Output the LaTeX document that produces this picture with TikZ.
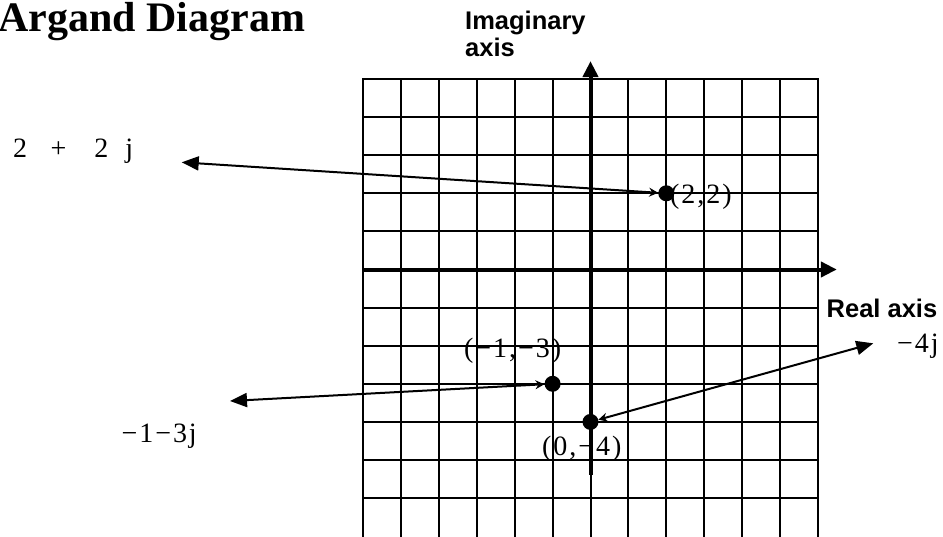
\documentclass[tikz,border=0pt]{standalone}
\usepackage{fontspec}
\setmainfont{Liberation Serif}
\newfontfamily\arialfont{Liberation Sans}
\newfontfamily\spacedserif[LetterSpace=7]{Liberation Serif}
\usetikzlibrary{arrows.meta}
\begin{document}
\begin{tikzpicture}[x=1pt,y=-1pt,
  gridline/.style={line width=2pt,line cap=rect},
  axisline/.style={line width=4pt,-{Triangle[length=16pt,width=15pt]}},
  dot/.style={circle,fill=black,inner sep=0pt,minimum size=16pt},
  pointer/.style={line width=2pt,{Triangle[length=17pt,width=14pt]}-{Stealth[length=9pt,width=9pt,inset=3pt]}},
  titlefont/.style={font=\bfseries\fontsize{42}{48}\selectfont,inner sep=0pt},
  sanslabel/.style={font=\arialfont\bfseries\fontsize{25.5}{27}\selectfont,inner sep=0pt},
  serif/.style={font=\fontsize{28}{32}\selectfont,inner sep=0pt},
  coordlabel/.style={font=\spacedserif\fontsize{28}{32}\selectfont,inner sep=0pt}]
\fill[white] (0,0) rectangle (943,536);
\useasboundingbox (0,0) rectangle (943,536);
\begin{scope}[shift={(590.5,269.5)},x=37.9pt,y=38.1pt]
  \foreach \i in {-6,...,6} \draw[gridline] (\i,-7.2) -- (\i,5);
  \foreach \j in {-6,...,5} \draw[gridline] (-6,\j) -- (6,\j);
  \draw[axisline] (-6,0) -- (6.5,0);
  \draw[axisline] (0,-5.39) -- (0,5.47);
  \node[dot] (p22) at (2,2) {};
  \node[dot] (pm13) at (-1,-3) {};
  \node[dot] (p04) at (0,-4) {};
\end{scope}
\coordinate (e22) at (181.7,162.3);
\coordinate (em13) at (230,401);
\coordinate (e04) at (873.3,343.3);
\draw[pointer] (e22) -- (p22);
\draw[pointer] (em13) -- (pm13);
\draw[pointer] (e04) -- (p04);
\node[titlefont,anchor=base west] (title) at (-2,31.7) {Argand Diagram};
\node[sanslabel,anchor=north west,align=left] (imag) at (465,11) {Imaginary\\axis};
\node[sanslabel,anchor=base west] (real) at (826.5,317.3) {Real axis};
\node[serif,anchor=base west] (l22) at (13,157) {2\hspace{23.5pt}+\hspace{28pt}2\hspace{17pt}j};
\node[coordlabel,anchor=base west] (c22) at (670,203) {(2,2)};
\node[coordlabel,anchor=base west] (cm13) at (464,357) {(−1,−3)};
\node[coordlabel,anchor=base west] (c04) at (542,455) {(0,−4)};
\node[coordlabel,anchor=base east] (lm13) at (197,442) {−1−3j};
\node[coordlabel,anchor=base west] (l04) at (897,352) {−4j};
\end{tikzpicture}
\end{document}
